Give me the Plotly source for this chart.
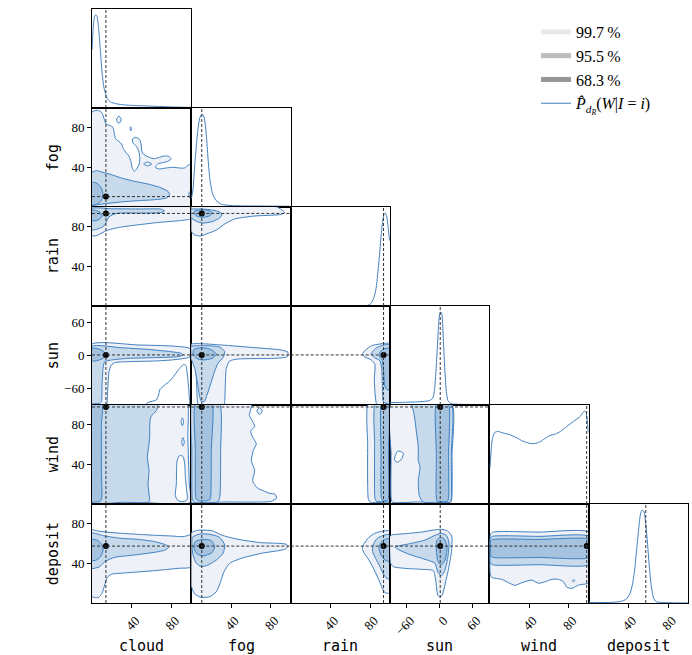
import plotly.graph_objects as go
from plotly.subplots import make_subplots

# ---------------- variables, ranges, ticks, truth values ----------------
VARS = ["cloud", "fog", "rain", "sun", "wind", "deposit"]
RANGES = {"cloud": [0, 100], "fog": [0, 100], "rain": [0, 100],
          "sun": [-90, 90], "wind": [0, 100], "deposit": [0, 100]}
TICKS = {"cloud": [40, 80], "fog": [40, 80], "rain": [40, 80],
         "sun": [-60, 0, 60], "wind": [40, 80], "deposit": [40, 80]}
TRUTH = {"cloud": 14, "fog": 10.5, "rain": 93.5, "sun": 1, "wind": 98, "deposit": 57.5}

# ---------------- 1-D marginal densities (peak-normalised) ----------------
cloud_x = [0, 1, 2, 3, 4.1, 5.1, 6.8, 8.5, 10.2, 11.9, 13.6, 15.3, 18.6, 23.7, 33.9, 47.5, 64.4, 81.4, 100]
cloud_d = [0.625, 0.823, 0.949, 0.996, 1.0, 0.986, 0.841, 0.607, 0.372, 0.227, 0.155, 0.101, 0.065, 0.047, 0.032, 0.025, 0.018, 0.011, 0.006]
fog_x = [0, 1.7, 3.4, 5.1, 6.8, 8.5, 10.5, 12.2, 13.9, 15.6, 17.3, 19, 21.4, 24.7, 30.5, 42.4, 66.1, 100]
fog_d = [0.09, 0.19, 0.451, 0.668, 0.848, 0.957, 0.996, 0.986, 0.903, 0.704, 0.451, 0.271, 0.144, 0.072, 0.029, 0.014, 0.011, 0.007]
rain_x = [0, 50, 77.6, 80.9, 83.6, 86, 87.6, 89.3, 91, 92.6, 94, 95.3, 96.7, 98, 99.3, 100]
rain_d = [0.0, 0.0, 0.007, 0.029, 0.083, 0.191, 0.336, 0.534, 0.751, 0.913, 0.986, 1.0, 0.96, 0.859, 0.733, 0.70]
sun_x = [-90, -64, -33.8, -18.7, -12.7, -9.7, -7.3, -4.8, -2.4, -0.6, 1.8, 3.6, 5.4, 7.2, 9.7, 12.1, 15.1, 20.5, 38.7, 90]
sun_d = [0.025, 0.029, 0.036, 0.047, 0.072, 0.144, 0.307, 0.56, 0.812, 0.957, 1.0, 0.993, 0.866, 0.632, 0.343, 0.144, 0.047, 0.014, 0.007, 0.004]
wind_x = [0.7, 2, 3.4, 5.4, 8.5, 13.6, 20.3, 27.1, 33.9, 40.7, 45.8, 50.8, 55.9, 61, 67.8, 72.9, 78, 84.7, 91.5, 95.6, 97.3, 98.6, 99.7]
wind_d = [0.39, 0.607, 0.715, 0.769, 0.78, 0.765, 0.747, 0.715, 0.675, 0.653, 0.65, 0.668, 0.704, 0.736, 0.758, 0.791, 0.834, 0.888, 0.942, 1.0, 0.986, 0.895, 0.769]
deposit_x = [0, 24.2, 32.7, 37.7, 41.8, 44.4, 46.5, 48.5, 50.5, 52.2, 53.9, 55.6, 57.2, 59.3, 61.3, 63.3, 65.3, 68, 78.1, 100]
deposit_d = [0.004, 0.007, 0.018, 0.04, 0.108, 0.217, 0.379, 0.596, 0.812, 0.957, 1.0, 0.986, 0.877, 0.632, 0.361, 0.162, 0.054, 0.014, 0.004, 0.0]

MARGINALS = {"cloud": (cloud_x, cloud_d), "fog": (fog_x, fog_d), "rain": (rain_x, rain_d),
             "sun": (sun_x, sun_d), "wind": (wind_x, wind_d), "deposit": (deposit_x, deposit_d)}

# ---------------- 2-D credible-region outlines (data units) ----------------
fog_vs_cloud = {
    "outer": [[(0, 96), (5.1, 97.6), (8.5, 96.6), (10.8, 93.3), (12.5, 88.2), (14.2, 83.8), (17.6, 82.5), (21, 80.5),
               (22.4, 74.7), (23.7, 69), (27.1, 66.3), (29.8, 63.6), (31.5, 58.9), (34.6, 54.5), (37.3, 51.2),
               (39.3, 45.5), (40.7, 38.7), (42.7, 36), (44.7, 38), (47.5, 43.4), (48.1, 49.5), (47.1, 56.2),
               (44.7, 61.3), (41.4, 64.6), (40.7, 68.7), (44.1, 70.4), (48.1, 68), (49.5, 63), (50.2, 56.2),
               (52.5, 52.9), (57.6, 50.2), (62.7, 48.8), (67.8, 50.2), (72.9, 51.5), (77.3, 51.2), (79.7, 48.5),
               (76.3, 46.1), (71.2, 44.8), (66.1, 43.4), (63.7, 40.1), (67.8, 38.4), (74.6, 39.4), (81.4, 40.1),
               (88.1, 39.4), (93.2, 39.4), (96.6, 42.1), (98.3, 42.8), (100.5, 41.4), (100.5, 20), (100.5, -0.5),
               (50, -0.5), (-0.5, -0.5), (-0.5, 50)],
              [(24.7, 88), (27.1, 92), (29.5, 88), (27.1, 84.5)],
              [(38.3, 79), (39, 81), (39.7, 79), (39, 76.8)],
              [(52, 43.4), (56, 45.5), (60, 43.4), (56, 41.5)]],
    "middle": [[(0, 35), (4.4, 36.7), (11.1, 35), (19.5, 32.7), (29.5, 29.3), (43, 25.9), (56.4, 23.2), (68.1, 19.9),
                (76.5, 15.8), (78.2, 12.5), (74.8, 9.1), (63.1, 7.4), (46.3, 6.4), (29.5, 5.1), (16.1, 3.7),
                (6, 2.4), (-0.5, 1.7), (-0.5, 20)],
               [(100.5, 17), (97.8, 14.5), (97.5, 11), (99, 8.5), (100.5, 8)]],
    "inner": [[(-0.5, 24.9), (3.4, 24.6), (6.7, 22.6), (9.4, 19.2), (10.7, 14.8), (10.7, 9.8), (8.7, 5.7), (5.4, 3),
               (-0.5, 2), (-0.5, 12)]],
}
rain_vs_cloud = {
    "outer": [[(-0.5, 71.4), (2, 70.7), (6, 71.7), (14.4, 76.1), (27.9, 79.5), (48, 82.2), (68, 84.5), (88, 86.2),
               (98, 87.5), (100.5, 88.5), (100.5, 100.5), (50, 100.5), (-0.5, 100.5), (-0.5, 85)]],
    "middle": [[(-0.5, 77), (4.4, 77.4), (11, 80), (14, 84), (17, 90), (25, 93.6), (50, 93.8), (70, 94.5), (73, 96),
                (70, 97.8), (50, 98), (20, 98.2), (-0.5, 98.5), (-0.5, 88)]],
    "inner": [[(-0.5, 97), (7.7, 95), (10.4, 90.9), (6, 86.9), (-0.5, 86.2), (-0.5, 92)]],
}
sun_vs_cloud = {
    "outer": [[(-0.5, 20.3), (46.3, 19.1), (79.9, 17.3), (96.6, 14.2), (100.5, 10), (100.5, 0.9), (96.6, -3.9),
               (79.9, -8.2), (63.1, -10), (36.2, -11.2), (22.8, -13), (19.5, -17.3), (17.1, -29.4), (16.1, -53.6),
               (15.4, -77.9), (14.4, -91), (7, -91), (-0.5, -91), (-0.5, -40)]],
    "middle": [[(-0.5, 16.1), (29.5, 14.2), (63.1, 10), (90, 3.9), (91.6, 0.9), (86.6, -2.1), (63.1, -3.9),
                (36.2, -5.2), (19.5, -8.2), (12.8, -11.2), (11.1, -23.3), (10.1, -53.6), (9.4, -84), (7.7, -87),
                (3, -87.5), (-0.5, -87.5), (-0.5, -40)]],
    "inner": [[(-0.5, 13), (7.7, 11.2), (12.8, 5.7), (13.4, 0.9), (11.1, -5.2), (6, -8.8), (-0.5, -10), (-0.5, 2)]],
    "lines": [[(53, -91), (56.4, -85.2), (64.8, -80.9), (67.1, -71.8), (68.1, -62.7), (73.2, -53.6), (78.2, -46.4),
               (83.2, -35.5), (88.3, -23.3), (92.3, -16.1), (94.6, -18.5), (96, -35.5), (97.3, -59.7), (98.3, -84),
               (98.7, -91)]],
}
wind_vs_cloud = {
    "outer": [[(-0.5, 100.5), (50, 100.5), (96, 100.5), (97, 90), (96.5, 70), (97, 50), (98, 20), (99, 1.5),
               (50, 1.5), (-0.5, 1.5), (-0.5, 50)]],
    "holes": [[(88.3, 49), (91.6, 48), (93.3, 40.5), (94, 27), (95.3, 13.5), (96, 5), (92.6, 2.4), (86.6, 3.4),
               (83.9, 8.4), (84.9, 20.3), (85.2, 37.2), (85.9, 44.6)],
              [(89.6, 83), (91, 87), (92.2, 83), (91, 79)],
              [(90.3, 62.5), (91.6, 67), (92.9, 62.5), (91.6, 58.5)]],
    "middle": [[(-0.5, 100.5), (66.4, 100.5), (64.8, 94.6), (59.1, 87.8), (58.1, 77.7), (58.1, 67.6), (57, 57.4),
                (55.7, 47.3), (57.4, 33.8), (56.4, 20.3), (57.4, 10.1), (58.1, 3.4), (56.4, 1.7), (30, 1.7),
                (-0.5, 1.7), (-0.5, 50)]],
    "inner": [[(-0.5, 100.5), (10, 100.5), (9.5, 80), (9.5, 30), (9.8, 6), (8, 2.5), (3, 2), (-0.5, 2), (-0.5, 50)]],
}
deposit_vs_cloud = {
    "outer": [[(-0.5, 73.7), (6, 72.7), (16.1, 71.4), (29.5, 70.4), (46.3, 69.4), (63.1, 68.4), (79.9, 67.7),
               (91.6, 67), (98.3, 68.7), (100.5, 69), (100.5, 36.7), (86.6, 35), (63.1, 32.7), (36.2, 30.6),
               (19.5, 29), (15.4, 25.9), (12.8, 18.2), (10.1, 9.8), (6.7, 5.7), (2.7, 5.4), (-0.5, 7.1), (-0.5, 40)]],
    "middle": [[(-0.5, 70.4), (12.8, 67.7), (29.5, 65.3), (46.3, 64.3), (63.1, 62), (74.8, 58.6), (77.2, 56.2),
                (73.8, 53.5), (63.1, 51.2), (43, 48.5), (22.8, 46.1), (12.8, 41.8), (7.7, 36.7), (-0.5, 35),
                (-0.5, 52)]],
    "inner": [[(-0.5, 64.3), (6, 63), (10.1, 58.6), (11.1, 53.5), (8.7, 46.8), (4.4, 43.4), (-0.5, 42.8),
               (-0.5, 53)]],
}
rain_vs_fog = {
    "outer": [[(-0.5, 100.5), (40, 100.5), (85, 100.5), (90.6, 97.5), (94, 94.3), (88.9, 92.3), (63.8, 90.9),
               (43.6, 87.9), (33.6, 82.8), (25.2, 76.8), (15.1, 72.7), (8.4, 70.7), (2.7, 72.1), (-0.5, 76.1),
               (-0.5, 90)]],
    "middle": [[(-0.5, 97.6), (8.4, 98), (18.5, 97.3), (26.8, 95.6), (30.9, 92.9), (28.5, 88.9), (21.8, 85.5),
                (13.4, 83.8), (6.7, 84.8), (1.7, 87.5), (-0.5, 89.6), (-0.5, 94)]],
    "inner": [[(3.4, 96), (10.1, 97.3), (16.8, 96.6), (20.8, 94.3), (18.8, 91.2), (11.7, 89.6), (5.4, 90.9), (2.7, 93.6)]],
}
sun_vs_fog = {
    "outer": [[(-0.5, 20.3), (30.2, 19.1), (63.8, 14.2), (90.6, 10), (97.3, 5.7), (96.6, -2.1), (83.9, -5.2),
               (47, -6.4), (38.6, -10), (35.2, -23.3), (34.2, -53.6), (33.6, -84), (32.9, -91), (20, -91), (7, -91),
               (6, -80), (5, -40), (3, -15), (-0.5, -5), (-0.5, 8)]],
    "middle": [[(-0.5, 16.1), (13.4, 17.9), (28.5, 15.4), (33.6, 7), (31.9, -3.9), (26.8, -14.2), (22.8, -32.4),
                (19.1, -53.6), (15.8, -71.8), (13.4, -82.7), (10.1, -84), (8.1, -71.8), (6, -47.6), (3.4, -23.3),
                (0.7, -10), (-0.5, -5.2), (-0.5, 5)]],
    "inner": [[(2.7, 11.2), (11.7, 14.2), (20.8, 10), (25.2, 2.1), (20.8, -5.2), (11.7, -8.2), (5, -5.2), (1.7, 2.1)]],
}
wind_vs_fog = {
    "outer": [[(-0.5, 100.5), (30, 100.5), (60.4, 100.5), (60.4, 98), (58.4, 89.5), (61.1, 84.5), (63.8, 78.4),
               (59.7, 73.6), (61.7, 67.6), (65.4, 60.8), (62.4, 54.1), (60.4, 43.9), (63.8, 33.8), (61.7, 23.6),
               (66.4, 16.2), (72.1, 13.5), (78.9, 10.8), (83.9, 10.1), (85.9, 6.1), (80.5, 2.7), (70.5, 2),
               (30, 2), (-0.5, 2), (-0.5, 50)],
              [(66, 94), (68.8, 97.5), (71.5, 94), (68.8, 90.5)]],
    "middle": [[(0.7, 100.5), (14, 100.5), (28.5, 100.5), (29.5, 54), (28.8, 8), (27.5, 3.5), (25.2, 1.7), (15, 1.5),
                (3.4, 1.7), (1.2, 4), (0.7, 8), (0.5, 54)]],
    "inner": [[(4, 100.5), (12, 100.5), (20.8, 100.5), (20.1, 54), (19.5, 8), (18.5, 4.5), (16.1, 3.4), (12, 3.2),
               (7.4, 3.4), (4.8, 5), (4.2, 9), (4, 54)]],
}
deposit_vs_fog = {
    "outer": [[(-0.5, 70.4), (5, 73.1), (11.7, 73.7), (21.8, 72.7), (30.2, 68.7), (47, 64.3), (70.5, 60.9),
               (87.2, 60.3), (95.6, 59.3), (97.3, 56.9), (94, 54.2), (70.5, 50.2), (50.3, 45.1), (38.6, 40.1),
               (32.9, 31.6), (29.5, 21.5), (25.2, 11.4), (18.5, 6.4), (10.1, 5.7), (3.4, 9.1), (0.7, 14.8),
               (-0.5, 18.2), (-0.5, 45)]],
    "middle": [[(1, 66.3), (8.4, 69.7), (18.5, 69.4), (28.5, 66.3), (33.6, 58.6), (31.9, 50.2), (25.2, 43.4),
                (16.8, 38.4), (10.1, 36.7), (5, 40.1), (1.7, 48.5), (0.7, 56.9)]],
    "inner": [[(4, 62), (11.7, 64.3), (20.1, 63), (23.5, 56.9), (20.8, 50.8), (11.7, 47.5), (5, 50.2), (2.7, 56.2)]],
}
sun_vs_rain = {
    "outer": [[(100.5, 21.5), (89.9, 20.9), (81.5, 17.9), (75.4, 10), (72.1, 2.1), (74.7, -2.7), (80.8, -7.6),
               (84.8, -16.1), (84.2, -41.5), (84.8, -65.8), (85.9, -84), (86.9, -91), (100.5, -91), (100.5, -30)]],
    "middle": [[(100.5, 19.7), (91.6, 17.9), (85.5, 13), (81.5, 3.9), (84.2, -4), (89.6, -8.8), (91.6, -23.3),
                (92.3, -53.6), (93.3, -84), (96, -87), (100.5, -87), (100.5, -30)]],
    "inner": [[(100.5, 13), (93.6, 11.8), (89.6, 5.7), (89.6, -2.1), (92, -8), (93.6, -30), (94.6, -55), (97, -62),
               (100.5, -62), (100.5, -20)]],
}
wind_vs_rain = {
    "outer": [[(78, 100.5), (77.5, 60), (77.5, 20), (78, 6), (79, 3), (81, 1.5), (90, 1.5), (100.5, 1.5),
               (100.5, 50), (100.5, 100.5), (90, 100.5)]],
    "middle": [[(85, 100.5), (84.5, 60), (84.5, 10), (85, 5), (86.5, 2.5), (93, 2.5), (100.5, 2.5), (100.5, 50),
                (100.5, 100.5), (93, 100.5)]],
    "inner": [[(91.5, 100.5), (95, 100.5), (98.5, 100.5), (98.5, 50), (98.5, 6), (97.5, 3.5), (95, 3.3), (92.5, 3.5),
               (91.3, 6), (91, 50)]],
}
deposit_vs_rain = {
    "outer": [[(100.5, 72.7), (91.6, 72.4), (84.8, 70.4), (78.8, 66.3), (74.1, 60.3), (72.1, 55.2), (74.1, 50.2),
               (78.8, 43.4), (84.2, 33.3), (88.9, 23.2), (92.3, 14.8), (94.9, 10.4), (98.3, 9.8), (100.5, 11.4),
               (100.5, 40)]],
    "middle": [[(100.5, 69), (93.6, 68.4), (86.9, 65), (82.8, 58.6), (82.5, 51.9), (85.5, 45.1), (89.6, 37.4),
                (93.3, 29.3), (97, 24.6), (100.5, 24.6), (100.5, 45)]],
    "inner": [[(100.5, 65), (94.3, 64), (90.2, 60.3), (88.9, 55.2), (90.9, 48.5), (94.9, 43.4), (100.5, 41.8),
               (100.5, 53)]],
}
wind_vs_sun = {
    "outer": [[(-88, 100.5), (-30, 100.5), (22, 100.5), (22.5, 50), (22, 6), (20, 2), (0, 2), (-40, 2), (-86, 2),
               (-88, 6), (-88, 50)]],
    "holes": [[(-82.1, 44.6), (-76.1, 53.4), (-65.8, 51.4), (-68.9, 45.6), (-76.1, 42.2)]],
    "middle": [[(-50.7, 100.5), (-15, 100.5), (21, 100.5), (21, 50), (21, 5), (19, 1.8), (-5, 1.7), (-26.6, 1.7),
                (-32.6, 3.4), (-37.5, 10.1), (-38.7, 23.6), (-35.6, 37.2), (-38.7, 43.9), (-38.7, 57.4),
                (-41.7, 70.9), (-44.7, 84.5), (-47.7, 94.6)]],
    "inner": [[(-6, 100.5), (5, 100.5), (16, 100.5), (16, 50), (16, 6), (14, 2.6), (5, 2.5), (-4, 2.6), (-6, 6),
               (-6, 50)]],
}
deposit_vs_sun = {
    "outer": [[(-87, 68.7), (-62.8, 70), (-32.6, 71.7), (-11.5, 73.7), (3.6, 74.4), (14.5, 72.7), (21.7, 67.7),
               (21.7, 53.5), (16.9, 36.7), (10.9, 21.5), (4.8, 8.1), (0.6, 5.7), (-3.6, 8.1), (-7.3, 23.2),
               (-11.5, 32.7), (-32.6, 34), (-62.8, 35), (-84, 36.7), (-88.8, 40.1), (-90.5, 53.5), (-90.5, 67)]],
    "middle": [[(-80.9, 56.6), (-56.8, 59.6), (-26.6, 63.6), (-8.5, 68.4), (2.4, 70.4), (12.1, 68.4), (16.9, 60.9),
                (14.5, 45.1), (8.5, 31.6), (2.4, 27.3), (-3.6, 31.6), (-8.5, 40.1), (-26.6, 44.1), (-56.8, 49.5),
                (-77.9, 54.9)]],
    "inner": [[(-5.4, 63), (1.8, 66.3), (9.7, 63.6), (13.3, 55.2), (9.7, 43.4), (2.4, 38.4), (-3.6, 42.8), (-6, 53.5)]],
}
deposit_vs_wind = {
    "outer": [[(3, 71.4), (50, 71.6), (100.5, 71.4), (100.5, 45), (100.5, 20.5), (89.9, 18.2), (83.2, 14.8),
               (78.1, 15.8), (74.7, 21.5), (69.7, 23.9), (63, 23.9), (56.2, 21.5), (49.5, 19.9), (42.8, 23.2),
               (32.7, 20.5), (25.9, 17.8), (19.2, 20.5), (12.5, 23.9), (2.4, 25.9), (0.8, 30), (0.6, 50),
               (1, 68.5)],
              [(83.5, 22.6), (84.8, 23.8), (86.1, 22.6), (84.8, 21.4)]],
    "middle": [[(3, 67.3), (50, 67.3), (100.5, 67.3), (100.5, 53), (100.5, 38.7), (50, 38.7), (3, 38.7), (1, 41),
                (0.7, 53), (1, 65)]],
    "inner": [[(3, 64), (50, 64.2), (100.5, 64.2), (100.5, 55), (100.5, 46), (50, 46), (3, 46.2), (1.2, 48),
               (1, 55), (1.2, 62)]],
}

PANELS = {
    ("fog", "cloud"): fog_vs_cloud, ("rain", "cloud"): rain_vs_cloud, ("sun", "cloud"): sun_vs_cloud,
    ("wind", "cloud"): wind_vs_cloud, ("deposit", "cloud"): deposit_vs_cloud,
    ("rain", "fog"): rain_vs_fog, ("sun", "fog"): sun_vs_fog, ("wind", "fog"): wind_vs_fog,
    ("deposit", "fog"): deposit_vs_fog,
    ("sun", "rain"): sun_vs_rain, ("wind", "rain"): wind_vs_rain, ("deposit", "rain"): deposit_vs_rain,
    ("wind", "sun"): wind_vs_sun, ("deposit", "sun"): deposit_vs_sun,
    ("deposit", "wind"): deposit_vs_wind,
}

LEVEL_LABELS = ["99.7\u2009%", "95.5\u2009%", "68.3\u2009%"]
LEVEL_GREYS = ["#e9e9e9", "#bcbcbc", "#969696"]

# ---------------- styling ----------------
LINE = "#3f7fc0"
FILLS = {"outer": "#eef1f7", "middle": "#c6daec", "inner": "#a5c3df"}
SERIF = "Liberation Serif, Times New Roman, serif"
MONO = "DejaVu Sans Mono, monospace"
DASH = dict(color="#333333", width=1, dash="3px,2px")

n = len(VARS)
specs = [[{} if c <= r else None for c in range(n)] for r in range(n)]
fig = make_subplots(rows=n, cols=n, specs=specs, horizontal_spacing=0, vertical_spacing=0)


def add_shape_trace(pts, r, c, fillcolor=None, close=True):
    xs = [p[0] for p in pts]
    ys = [p[1] for p in pts]
    if close:
        xs.append(pts[0][0])
        ys.append(pts[0][1])
    fig.add_trace(go.Scatter(
        x=xs, y=ys, mode="lines",
        fill="toself" if fillcolor else None, fillcolor=fillcolor,
        line=dict(color=LINE, width=1, shape="spline", smoothing=0.6),
        hoverinfo="skip", showlegend=False), row=r + 1, col=c + 1)


for r in range(n):
    for c in range(r + 1):
        vx, vy = VARS[c], VARS[r]
        if r == c:
            xs, ds = MARGINALS[vx]
            fig.add_trace(go.Scatter(x=xs, y=ds, mode="lines",
                                     line=dict(color=LINE, width=1, shape="spline", smoothing=0.6),
                                     hoverinfo="skip", showlegend=False), row=r + 1, col=c + 1)
            fig.add_vline(x=TRUTH[vx], row=r + 1, col=c + 1, line=DASH)
        else:
            panel = PANELS[(vy, vx)]
            for poly in panel.get("outer", []):
                add_shape_trace(poly, r, c, FILLS["outer"])
            for poly in panel.get("holes", []):
                add_shape_trace(poly, r, c, "white")
            for poly in panel.get("lines", []):
                add_shape_trace(poly, r, c, None, close=False)
            for poly in panel.get("middle", []):
                add_shape_trace(poly, r, c, FILLS["middle"])
            for poly in panel.get("inner", []):
                add_shape_trace(poly, r, c, FILLS["inner"])
            fig.add_vline(x=TRUTH[vx], row=r + 1, col=c + 1, line=DASH)
            fig.add_hline(y=TRUTH[vy], row=r + 1, col=c + 1, line=DASH)
            fig.add_trace(go.Scatter(x=[TRUTH[vx]], y=[TRUTH[vy]], mode="markers",
                                     marker=dict(color="black", size=6), cliponaxis=False,
                                     hoverinfo="skip", showlegend=False), row=r + 1, col=c + 1)

        fig.update_xaxes(row=r + 1, col=c + 1, range=RANGES[vx], showgrid=False, zeroline=False,
                         showline=True, mirror=True, linecolor="black", linewidth=1,
                         tickvals=TICKS[vx], showticklabels=(r == n - 1),
                         ticks="outside" if r == n - 1 else "", ticklen=4, tickcolor="black",
                         tickangle=-45, ticklabelshift=4,
                         tickfont=dict(family=SERIF, size=13, color="black"))
        if r == c:
            fig.update_yaxes(row=r + 1, col=c + 1, range=[0, 1.065], showgrid=False, zeroline=False,
                             showline=True, mirror=True, linecolor="black", linewidth=1,
                             showticklabels=False, ticks="")
        else:
            fig.update_yaxes(row=r + 1, col=c + 1, range=RANGES[vy], showgrid=False, zeroline=False,
                             showline=True, mirror=True, linecolor="black", linewidth=1,
                             tickvals=TICKS[vy], showticklabels=(c == 0),
                             ticks="outside" if c == 0 else "", ticklen=4, tickcolor="black",
                             tickfont=dict(family=SERIF, size=13, color="black"))

# legend entries
for lab, grey in zip(LEVEL_LABELS, LEVEL_GREYS):
    fig.add_trace(go.Scatter(x=[None], y=[None], mode="lines", line=dict(color=grey, width=5),
                             name=lab, showlegend=True), row=1, col=1)
fig.add_trace(go.Scatter(x=[None], y=[None], mode="lines", line=dict(color=LINE, width=1),
                         name="<i>P\u0302</i><sub><i>d</i><sub><i>R</i></sub></sub>(<i>W</i>|<i>I</i> = <i>i</i>)",
                         showlegend=True), row=1, col=1)

for i, v in enumerate(VARS):
    fig.add_annotation(text=v, xref="paper", yref="paper", x=(i + 0.5) / n, y=-0.072,
                       showarrow=False, xanchor="center", yanchor="middle",
                       font=dict(family=MONO, size=15, color="black"))
    if i > 0:
        fig.add_annotation(text=v, xref="paper", yref="paper", x=-0.066, y=1 - (i + 0.5) / n,
                           showarrow=False, xanchor="center", yanchor="middle", textangle=-90,
                           font=dict(family=MONO, size=15, color="black"))

fig.update_layout(
    width=692, height=655,
    margin=dict(l=92, r=4, t=9, b=52),
    paper_bgcolor="white", plot_bgcolor="white",
    showlegend=True,
    legend=dict(x=0.745, y=0.99, xanchor="left", yanchor="top",
                font=dict(family=SERIF, size=16, color="black"),
                bgcolor="rgba(0,0,0,0)", tracegroupgap=0),
)

fig.write_html("out.html", config={"displayModeBar": False},
               post_script="document.body.style.margin='0px';")
